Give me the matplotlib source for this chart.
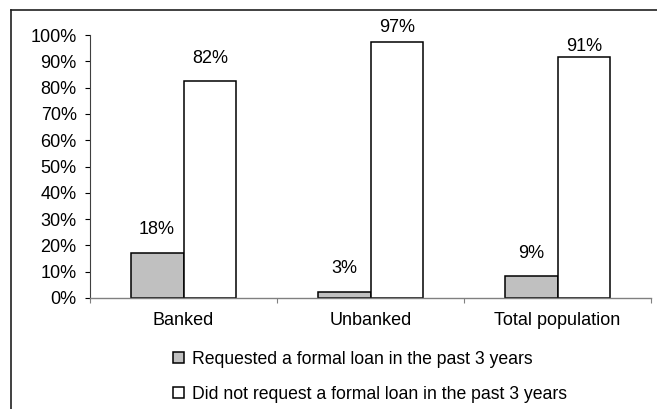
import numpy as np
import matplotlib
matplotlib.use("Agg")
import matplotlib.pyplot as plt
from matplotlib.lines import Line2D

plt.rcParams['font.family'] = ['Liberation Sans', 'DejaVu Sans']

# Data
categories = ["Banked", "Unbanked", "Total population"]
requested = [17.2, 2.4, 8.2]            # % bar heights
not_requested = [82.5, 97.3, 91.6]
requested_labels = ["18%", "3%", "9%"]
not_requested_labels = ["82%", "97%", "91%"]
series_names = ["Requested a formal loan in the past 3 years",
                "Did not request a formal loan in the past 3 years"]

W, H = 657, 409
fig = plt.figure(figsize=(W / 100, H / 100), dpi=100)
ax = fig.add_axes([90 / W, (H - 298) / H, (651 - 90) / W, (298 - 35) / H])

x = np.arange(len(categories))
bw = 0.283
fs = 13

b1 = ax.bar(x - bw / 2, requested, bw, color="#C0C0C0", edgecolor="black",
            linewidth=1.1, label=series_names[0])
b2 = ax.bar(x + bw / 2, not_requested, bw, color="white", edgecolor="black",
            linewidth=1.1, label=series_names[1])

    # Value labels, offsets in pixels above bar top
offs1 = [23, 23, 23]
offs2 = [23, 15, 11]
for i in range(len(categories)):
    ax.annotate(requested_labels[i], (x[i] - bw / 2, requested[i]),
                xytext=(0, offs1[i] * 0.72), textcoords="offset points",
                ha="center", va="center", fontsize=fs)
    ax.annotate(not_requested_labels[i], (x[i] + bw / 2, not_requested[i]),
                xytext=(0, offs2[i] * 0.72), textcoords="offset points",
                ha="center", va="center", fontsize=fs, annotation_clip=False)

ax.set_xlim(-0.5, len(categories) - 0.5)
ax.set_ylim(0, 100)
ax.set_yticks(np.arange(0, 101, 10))
ax.set_yticklabels([f"{v}%" for v in range(0, 101, 10)])
ax.set_xticks(x)
ax.set_xticklabels(categories)
ax.set_xticks(np.arange(-0.5, len(categories), 1), minor=True)
ax.tick_params(axis="x", which="major", length=0, pad=10, labelsize=fs)
ax.tick_params(axis="x", which="minor", length=3.6, width=0.8, color="#808080")
ax.tick_params(axis="y", length=3.6, width=0.8, labelsize=fs, pad=6)

for s in ["top", "right"]:
    ax.spines[s].set_visible(False)
ax.spines["bottom"].set_color("#808080")
ax.spines["left"].set_color("#404040")
ax.spines["bottom"].set_linewidth(1.0)
ax.spines["left"].set_linewidth(0.8)

fig.legend(handles=[b1, b2], loc="upper left",
           bbox_to_anchor=(173 / W, 1 - 351 / H), frameon=False,
           fontsize=12.7, handlelength=0.6, handleheight=0.6,
           handletextpad=0.45, labelspacing=1.0, borderpad=0,
           borderaxespad=0)

    # Outer frame (left and top edges visible)
fig.add_artist(Line2D([11 / W, 11 / W], [0, 1 - 10 / H], color="#202020", lw=1.2))
fig.add_artist(Line2D([11 / W, 1], [1 - 10 / H, 1 - 10 / H], color="#202020", lw=1.2))

fig.savefig("out.png", dpi=100)
